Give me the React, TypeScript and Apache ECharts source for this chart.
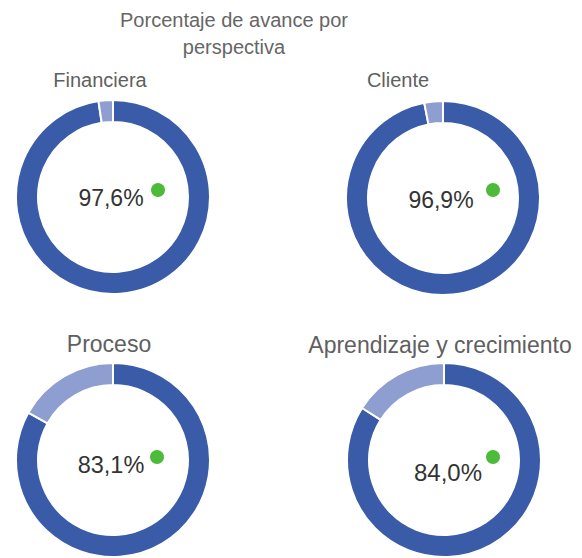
import React, { useEffect, useRef } from "react";
import * as echarts from "echarts";

const titleLines = ["Porcentaje de avance por", "perspectiva"];
const perspectives = ["Financiera", "Cliente", "Proceso", "Aprendizaje y crecimiento"];
const completed = [97.6, 96.9, 83.1, 84.0];
const centerLabels = ["97,6%", "96,9%", "83,1%", "84,0%"];

const DARK = "#3a5ba8";
const LIGHT = "#8e9ed1";
const GREEN = "#4cbb3a";
const FONT = "'Liberation Sans', Arial, sans-serif";

const layout = [
  { cx: 113, cy: 197, tx: 100, ty: 80, ts: 20, lx: 111, ly: 198, ls: 23, dx: 158, dy: 190 },
  { cx: 443, cy: 198, tx: 398, ty: 80, ts: 20, lx: 441, ly: 200, ls: 23, dx: 493, dy: 190 },
  { cx: 113, cy: 460, tx: 109, ty: 344, ts: 23, lx: 111, ly: 465, ls: 23.5, dx: 157, dy: 457 },
  { cx: 444, cy: 460, tx: 440, ty: 345, ts: 23, lx: 448, ly: 472, ls: 24, dx: 493, dy: 457 },
];

export default function App() {
  const ref = useRef<HTMLDivElement>(null);
  useEffect(() => {
    document.body.style.margin = "0";
    if (!ref.current) return;
    const chart = echarts.init(ref.current, undefined, { renderer: "svg" });
    const series = perspectives.map((name, i) => ({
      type: "pie",
      name,
      radius: [75, 97],
      center: [layout[i].cx, layout[i].cy],
      startAngle: 90,
      clockwise: true,
      silent: true,
      label: { show: false },
      labelLine: { show: false },
      itemStyle: { borderColor: "#ffffff", borderWidth: 2 },
      data: [
        { name: "Avance", value: completed[i], itemStyle: { color: DARK } },
        { name: "Pendiente", value: +(100 - completed[i]).toFixed(1), itemStyle: { color: LIGHT } },
      ],
    }));
    const graphics: any[] = [];
    titleLines.forEach((t, k) => {
      graphics.push({
        type: "text",
        x: 234,
        y: 20 + k * 27,
        style: { text: t, fill: "#666666", font: `20px ${FONT}`, textAlign: "center", textVerticalAlign: "middle" },
      });
    });
    perspectives.forEach((p, i) => {
      const L = layout[i];
      graphics.push({
        type: "text",
        x: L.tx,
        y: L.ty,
        style: { text: p, fill: "#606060", font: `${L.ts}px ${FONT}`, textAlign: "center", textVerticalAlign: "middle" },
      });
      graphics.push({
        type: "text",
        x: L.lx,
        y: L.ly,
        style: { text: centerLabels[i], fill: "#333333", font: `${L.ls}px ${FONT}`, textAlign: "center", textVerticalAlign: "middle" },
      });
      graphics.push({
        type: "circle",
        shape: { cx: L.dx, cy: L.dy, r: 7 },
        style: { fill: GREEN },
      });
    });
    chart.setOption({
      animation: false,
      backgroundColor: "#ffffff",
      series,
      graphic: graphics,
    });
    return () => chart.dispose();
  }, []);
  return <div ref={ref} style={{ width: 582, height: 558 }} />;
}
